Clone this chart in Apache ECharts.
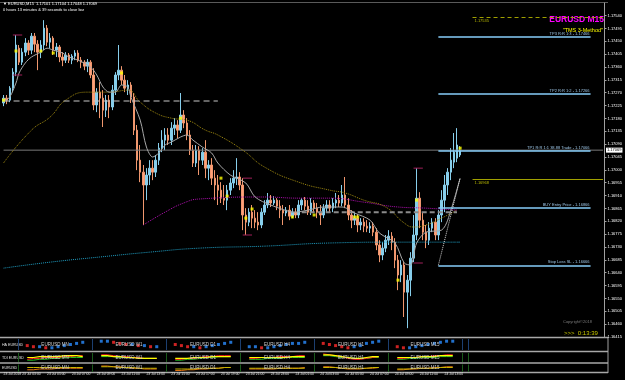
<!DOCTYPE html>
<html>
<head>
<meta charset="utf-8">
<title>EURUSD M15</title>
<script src="https://cdn.jsdelivr.net/npm/echarts@6/dist/echarts.min.js"></script>
<style>
html, body { margin: 0; padding: 0; background: #000; }
#chart { width: 625px; height: 380px; }
</style>
</head>
<body>
<div id="chart"></div>
<script>
// M15 bars, 23 Jul 01:30 -> 24 Jul 14:15
const opens = [
  1.17234, 1.17251, 1.17244, 1.17286, 1.17342, 1.17426, 1.17377, 1.17412, 1.17444, 1.17419,
  1.17468, 1.17440, 1.17412, 1.17437, 1.17496, 1.17447, 1.17461, 1.17419, 1.17430, 1.17395,
  1.17384, 1.17402, 1.17384, 1.17398, 1.17409, 1.17384, 1.17377, 1.17363, 1.17377, 1.17332,
  1.17227, 1.17272, 1.17251, 1.17209, 1.17244, 1.17220, 1.17279, 1.17332, 1.17349, 1.17314,
  1.17286, 1.17297, 1.17255, 1.17139, 1.17034, 1.16992, 1.16947, 1.16982, 1.17006, 1.16992,
  1.17034, 1.17076, 1.17104, 1.17122, 1.17104, 1.17146, 1.17157, 1.17139, 1.17192, 1.17164,
  1.17122, 1.17069, 1.17024, 1.17069, 1.17034, 1.17062, 1.17006, 1.17017, 1.16971, 1.16947,
  1.16929, 1.16901, 1.16894, 1.16929, 1.16954, 1.16971, 1.16975, 1.16947, 1.16842, 1.16817,
  1.16852, 1.16831, 1.16817, 1.16807, 1.16852, 1.16877, 1.16894, 1.16884, 1.16894, 1.16873,
  1.16859, 1.16849, 1.16859, 1.16838, 1.16852, 1.16842, 1.16877, 1.16894, 1.16873, 1.16852,
  1.16884, 1.16866, 1.16852, 1.16842, 1.16866, 1.16877, 1.16866, 1.16884, 1.16894, 1.16884,
  1.16912, 1.16877, 1.16842, 1.16824, 1.16831, 1.16807, 1.16817, 1.16803, 1.16796, 1.16803,
  1.16782, 1.16737, 1.16702, 1.16726, 1.16754, 1.16768, 1.16747, 1.16684, 1.16632, 1.16667,
  1.16572, 1.16614, 1.16691, 1.16772, 1.16901, 1.16824, 1.16782, 1.16754, 1.16796, 1.16817,
  1.16772, 1.16842, 1.16894, 1.16947, 1.16992, 1.17027, 1.17041, 1.17052
];
const closes = [
  1.17251, 1.17244, 1.17286, 1.17342, 1.17437, 1.17377, 1.17412, 1.17444, 1.17419, 1.17468,
  1.17440, 1.17412, 1.17437, 1.17496, 1.17447, 1.17461, 1.17419, 1.17430, 1.17395, 1.17384,
  1.17402, 1.17384, 1.17398, 1.17409, 1.17384, 1.17377, 1.17363, 1.17377, 1.17332, 1.17227,
  1.17272, 1.17251, 1.17209, 1.17244, 1.17220, 1.17279, 1.17332, 1.17349, 1.17314, 1.17286,
  1.17297, 1.17255, 1.17139, 1.17034, 1.16992, 1.16947, 1.16982, 1.17006, 1.16992, 1.17034,
  1.17076, 1.17104, 1.17122, 1.17104, 1.17146, 1.17157, 1.17139, 1.17192, 1.17164, 1.17122,
  1.17069, 1.17024, 1.17069, 1.17034, 1.17062, 1.17006, 1.17017, 1.16971, 1.16947, 1.16929,
  1.16901, 1.16894, 1.16929, 1.16954, 1.16971, 1.16975, 1.16947, 1.16842, 1.16817, 1.16852,
  1.16831, 1.16817, 1.16807, 1.16852, 1.16877, 1.16894, 1.16884, 1.16894, 1.16873, 1.16859,
  1.16849, 1.16859, 1.16838, 1.16852, 1.16842, 1.16877, 1.16894, 1.16873, 1.16852, 1.16884,
  1.16866, 1.16852, 1.16842, 1.16866, 1.16877, 1.16866, 1.16884, 1.16894, 1.16884, 1.16912,
  1.16877, 1.16842, 1.16824, 1.16831, 1.16807, 1.16817, 1.16803, 1.16796, 1.16803, 1.16782,
  1.16737, 1.16702, 1.16726, 1.16754, 1.16768, 1.16747, 1.16684, 1.16632, 1.16667, 1.16572,
  1.16614, 1.16691, 1.16772, 1.16901, 1.16824, 1.16782, 1.16754, 1.16796, 1.16817, 1.16772,
  1.16842, 1.16894, 1.16947, 1.16992, 1.17034, 1.17062, 1.17087, 1.17069
];
const highs = [
  1.17262, 1.17262, 1.17293, 1.17356, 1.17472, 1.17437, 1.17426, 1.17461, 1.17454, 1.17479,
  1.17479, 1.17454, 1.17454, 1.17524, 1.17507, 1.17479, 1.17468, 1.17444, 1.17437, 1.17412,
  1.17412, 1.17409, 1.17405, 1.17419, 1.17419, 1.17395, 1.17384, 1.17388, 1.17384, 1.17356,
  1.17286, 1.17307, 1.17279, 1.17262, 1.17262, 1.17297, 1.17342, 1.17437, 1.17363, 1.17332,
  1.17314, 1.17307, 1.17269, 1.17157, 1.17087, 1.17017, 1.17006, 1.17034, 1.17034, 1.17052,
  1.17094, 1.17139, 1.17146, 1.17146, 1.17167, 1.17181, 1.17174, 1.17269, 1.17209, 1.17181,
  1.17139, 1.17087, 1.17087, 1.17083, 1.17076, 1.17104, 1.17034, 1.17041, 1.16999, 1.16982,
  1.16957, 1.16947, 1.16947, 1.16971, 1.16999, 1.17041, 1.16992, 1.16971, 1.16866, 1.16866,
  1.16877, 1.16859, 1.16852, 1.16866, 1.16894, 1.16919, 1.16912, 1.16908, 1.16901, 1.16894,
  1.16877, 1.16870, 1.16877, 1.16866, 1.16866, 1.16894, 1.16901, 1.16905, 1.16894, 1.16901,
  1.16894, 1.16884, 1.16877, 1.16880, 1.16894, 1.16894, 1.16901, 1.16919, 1.16912, 1.16947,
  1.16975, 1.16901, 1.16859, 1.16852, 1.16845, 1.16831, 1.16831, 1.16824, 1.16817, 1.16817,
  1.16796, 1.16754, 1.16747, 1.16772, 1.16789, 1.16782, 1.16761, 1.16702, 1.16684, 1.16677,
  1.16632, 1.16712, 1.16842, 1.17006, 1.16922, 1.16852, 1.16807, 1.16817, 1.16831, 1.16831,
  1.16859, 1.16929, 1.16982, 1.17006, 1.17076, 1.17129, 1.17146, 1.17083
];
const lows = [
  1.17223, 1.17230, 1.17237, 1.17272, 1.17328, 1.17367, 1.17367, 1.17398, 1.17402, 1.17405,
  1.17412, 1.17349, 1.17391, 1.17419, 1.17433, 1.17426, 1.17402, 1.17395, 1.17377, 1.17363,
  1.17374, 1.17374, 1.17370, 1.17384, 1.17377, 1.17356, 1.17349, 1.17342, 1.17321, 1.17209,
  1.17202, 1.17181, 1.17150, 1.17185, 1.17181, 1.17209, 1.17262, 1.17314, 1.17297, 1.17272,
  1.17262, 1.17234, 1.17122, 1.16999, 1.16957, 1.16807, 1.16894, 1.16947, 1.16964, 1.16975,
  1.17017, 1.17062, 1.17069, 1.17087, 1.17087, 1.17122, 1.17111, 1.17129, 1.17146, 1.17104,
  1.17052, 1.17010, 1.17010, 1.16982, 1.17017, 1.16971, 1.16964, 1.16947, 1.16894, 1.16877,
  1.16884, 1.16877, 1.16859, 1.16912, 1.16936, 1.16947, 1.16929, 1.16789, 1.16772, 1.16803,
  1.16796, 1.16796, 1.16789, 1.16796, 1.16842, 1.16866, 1.16870, 1.16877, 1.16859, 1.16831,
  1.16807, 1.16838, 1.16824, 1.16831, 1.16831, 1.16831, 1.16859, 1.16859, 1.16842, 1.16842,
  1.16852, 1.16831, 1.16807, 1.16831, 1.16852, 1.16852, 1.16852, 1.16866, 1.16870, 1.16873,
  1.16866, 1.16824, 1.16796, 1.16807, 1.16782, 1.16789, 1.16782, 1.16782, 1.16779, 1.16768,
  1.16719, 1.16677, 1.16684, 1.16712, 1.16737, 1.16719, 1.16656, 1.16579, 1.16607, 1.16485,
  1.16446, 1.16558, 1.16677, 1.16754, 1.16796, 1.16754, 1.16726, 1.16737, 1.16782, 1.16754,
  1.16754, 1.16817, 1.16852, 1.16912, 1.16964, 1.17006, 1.17027, 1.17045
];

// time axis labels: first bar, then every 8 bars from bar 6
const timeTicks = [
  '23 Jul 2018', '23 Jul 03:00', '23 Jul 05:00', '23 Jul 07:00', '23 Jul 09:00', '23 Jul 11:00',
  '23 Jul 13:00', '23 Jul 15:00', '23 Jul 17:00', '23 Jul 19:00', '23 Jul 21:00', '23 Jul 23:00',
  '24 Jul 01:00', '24 Jul 03:00', '24 Jul 05:00', '24 Jul 07:00', '24 Jul 09:00', '24 Jul 11:00',
  '24 Jul 13:00'
];

// indicator lines: [bar index, price]
const fastMa = [
  [0, 1.17237], [2, 1.17255], [4, 1.17304], [5, 1.17339], [7, 1.17374], [9, 1.17395],
  [12, 1.17412], [14, 1.17426], [16, 1.17419], [19, 1.17409], [21, 1.17395], [24, 1.17384],
  [28, 1.17360], [30, 1.17332], [32, 1.17290], [34, 1.17272], [36, 1.17272], [38, 1.17297],
  [40, 1.17290], [41, 1.17255], [44, 1.17174], [46, 1.17080], [48, 1.17045], [50, 1.17059],
  [52, 1.17087], [54, 1.17097], [57, 1.17115], [59, 1.17122], [61, 1.17104], [64, 1.17080],
  [67, 1.17059], [69, 1.17024], [73, 1.16982], [78, 1.16954], [81, 1.16905], [86, 1.16877],
  [94, 1.16852], [98, 1.16859], [103, 1.16870], [109, 1.16870], [113, 1.16849], [118, 1.16824],
  [121, 1.16779], [126, 1.16744], [129, 1.16674], [131, 1.16667], [133, 1.16744], [136, 1.16782],
  [141, 1.16789], [143, 1.16824], [147, 1.16971]
];
const oliveMa = [
  [0, 1.17024], [9, 1.17139], [15, 1.17185], [20, 1.17244], [27, 1.17272], [34, 1.17272],
  [40, 1.17279], [44, 1.17237], [49, 1.17199], [54, 1.17181], [59, 1.17174], [65, 1.17139],
  [69, 1.17122], [77, 1.17069], [84, 1.17010], [95, 1.16957], [105, 1.16929], [110, 1.16919],
  [116, 1.16894], [123, 1.16870], [129, 1.16814], [132, 1.16800], [136, 1.16807], [141, 1.16831],
  [146, 1.16859]
];
const magentaMa = [
  [45, 1.16807], [52, 1.16852], [58, 1.16884], [63, 1.16898], [84, 1.16905], [95, 1.16901],
  [105, 1.16901], [116, 1.16887], [127, 1.16870], [136, 1.16866], [146, 1.16859]
];
const tealMa = [
  [0, 1.16656], [15, 1.16677], [31, 1.16695], [47, 1.16712], [63, 1.16726], [84, 1.16733],
  [105, 1.16744], [127, 1.16747], [147, 1.16747]
];
const signalDots = [
  [0, 1.17244], [4, 1.17416], [12, 1.17416], [16, 1.17409], [38, 1.17339], [57, 1.17181],
  [70, 1.16971], [72, 1.16908], [78, 1.16831], [80, 1.16863], [93, 1.16835], [100, 1.16842],
  [113, 1.16835], [114, 1.16835], [127, 1.16614], [133, 1.16894], [147, 1.17076]
];
// short fractal markers: [from bar, to bar, price]
const fractalMarks = [
  [3, 6, 1.17472], [3, 6, 1.17332], [77, 80, 1.16971], [77, 80, 1.16772],
  [132, 135, 1.17006], [132, 135, 1.16674]
];
const oldLevel = { from: 0, to: 69, price: 1.17241 };
const rangeLevel = { from: 96, to: 146, price: 1.16852 };

// trade levels
const levelNames = [
  'TP3 R:R 1:3 - 1.17466', 'TP2 R:R 1:2 - 1.17266', 'TP1 R:R 1:1 38.88 Trade - 1.17066',
  'BUY Entry Price - 1.16866', 'Stop Loss SL - 1.16666'
];
const levelPrices = [1.17466, 1.17266, 1.17066, 1.16866, 1.16666];
const pivotPrices = [1.16968, 1.17535];

// multi-timeframe panels, 10 points per cell
const panelCells = ['EURUSD MN', 'EURUSD W1', 'EURUSD D1', 'EURUSD H4', 'EURUSD H1', 'EURUSD M15'];
const panelNames = ['HA EURUSD', 'TDI EURUSD', 'EURUSD'];
const haVals = [
  4, 3, 3, 2, 2, 3, 4, 5, 6, 7,
  8, 8, 7, 6, 5, 5, 4, 4, 3, 3,
  5, 4, 3, 3, 2, 3, 4, 5, 6, 7,
  3, 3, 2, 2, 3, 4, 5, 6, 6, 7,
  6, 5, 4, 3, 2, 3, 4, 6, 7, 8,
  3, 2, 2, 3, 4, 5, 6, 7, 8, 8
];
const tdiYellow = [
  5, 5, 6, 6, 6, 6, 7, 7, 7, 6,
  7, 7, 6, 6, 5, 5, 4, 4, 4, 4,
  4, 4, 4, 5, 5, 5, 6, 6, 6, 6,
  5, 5, 5, 5, 5, 5, 5, 6, 6, 6,
  8, 8, 7, 6, 5, 4, 4, 5, 6, 6,
  5, 5, 5, 5, 6, 6, 6, 7, 7, 7
];
const tdiRed = [
  3, 4, 4, 5, 5, 5, 6, 6, 7, 7,
  8, 8, 7, 6, 6, 5, 5, 4, 4, 4,
  3, 3, 4, 4, 5, 6, 6, 7, 7, 7,
  4, 4, 5, 5, 5, 6, 6, 6, 7, 7,
  9, 8, 7, 6, 4, 3, 3, 4, 5, 6,
  4, 4, 5, 5, 6, 6, 7, 7, 8, 8
];
const tdiGreen = [
  2, 2, 3, 3, 4, 4, 5, 5, 5, 5,
  6, 6, 6, 5, 5, 5, 5, 4, 4, 4,
  2, 2, 3, 3, 4, 5, 5, 6, 6, 6,
  3, 3, 3, 4, 4, 4, 5, 5, 5, 5,
  7, 7, 6, 5, 5, 4, 4, 4, 5, 5,
  3, 3, 4, 4, 5, 5, 5, 6, 6, 6
];
const trendOlive = [
  6, 6, 6, 6, 6, 6, 6, 6, 6, 6,
  7, 7, 7, 6, 6, 6, 5, 5, 5, 5,
  4, 4, 4, 4, 5, 5, 5, 5, 6, 6,
  5, 5, 5, 5, 5, 5, 5, 5, 5, 5,
  6, 6, 6, 5, 5, 5, 5, 5, 6, 6,
  4, 4, 4, 5, 5, 5, 5, 6, 6, 6
];
const trendOrange = [
  3, 3, 4, 4, 4, 5, 5, 5, 5, 5,
  8, 8, 7, 7, 6, 5, 5, 4, 4, 4,
  2, 2, 3, 3, 4, 4, 5, 5, 6, 6,
  4, 4, 4, 4, 4, 5, 5, 5, 5, 6,
  7, 7, 6, 5, 4, 4, 4, 5, 5, 6,
  3, 3, 4, 4, 5, 5, 6, 6, 7, 7
];

const SLOTS = 194;
const CELL_SLOTS = 12;
const PANEL_SLOTS = panelCells.length * CELL_SLOTS + 1;
const FONT = 'Liberation Sans, Arial, sans-serif';

const categories = Array.from({ length: SLOTS }, (_, i) => 'bar' + i);
const tickAt = {};
timeTicks.forEach((t, k) => { tickAt[k === 0 ? 0 : 6 + (k - 1) * 8] = t; });
const candles = opens.map((o, i) => [o, closes[i], lows[i], highs[i]]);
const lastClose = closes[closes.length - 1];

function toSlots(vals) {
  return vals.map((v, j) => [Math.floor(j / 10) * CELL_SLOTS + 1 + (j % 10), v]);
}
function cellLines(vals, color, axis, width) {
  return panelCells.map((_, c) => ({
    type: 'line', xAxisIndex: axis, yAxisIndex: axis, showSymbol: false, silent: true,
    data: toSlots(vals).slice(c * 10, c * 10 + 10),
    lineStyle: { color, width: width || 1 }
  }));
}

const chart = echarts.init(document.getElementById('chart'), null, { renderer: 'canvas' });

const panelTops = [339, 353, 364.5];
const panelHeights = [11, 9, 7.5];
const panelSplit = ['#1c3f70', '#1a5a1a', '#1a5a1a'];
const panelLeft = 18;
const panelWidth = 444 / (PANEL_SLOTS - 1) * PANEL_SLOTS;

const grids = [{ left: 2, right: 17, top: 3, bottom: 43 }];
panelTops.forEach((t, k) => grids.push({ left: panelLeft, width: panelWidth, top: t, height: panelHeights[k] }));

const xAxes = [{
  type: 'category', data: categories, boundaryGap: true, gridIndex: 0,
  axisLine: { show: false }, axisTick: { show: false }, splitLine: { show: false },
  axisLabel: {
    show: true, interval: (i) => tickAt[i] !== undefined,
    formatter: (v, i) => tickAt[i] || '',
    color: '#e0e0e0', fontSize: 3.4, fontFamily: FONT, align: 'left', margin: 36
  }
}];
const yAxes = [{
  type: 'value', gridIndex: 0, position: 'right', scale: true,
  min: 1.16415, max: 1.17584, interval: 0.00045,
  axisLine: { show: true, lineStyle: { color: '#a0a0a0', width: 1 } },
  axisTick: { show: true, length: 2, lineStyle: { color: '#a0a0a0' } },
  splitLine: { show: false },
  axisLabel: {
    color: '#ffffff', fontSize: 4, fontFamily: FONT, margin: 3,
    showMaxLabel: false, formatter: (v) => v.toFixed(5)
  }
}];
panelTops.forEach((_, k) => {
  xAxes.push({
    type: 'category', gridIndex: k + 1, boundaryGap: true,
    data: Array.from({ length: PANEL_SLOTS }, (_, i) => 's' + i),
    axisLine: { show: false }, axisTick: { show: false }, axisLabel: { show: false },
    splitLine: { show: true, interval: (i) => i % CELL_SLOTS === 0, lineStyle: { color: panelSplit[k], width: 1 } }
  });
  yAxes.push({ type: 'value', gridIndex: k + 1, min: 0, max: 10, show: false });
});

const levelMarks = levelPrices.map((p, k) => [
  { coord: [140, p], lineStyle: { color: '#87cefa', width: 1.5, type: 'solid' },
    label: { formatter: levelNames[k], position: 'insideEndTop', distance: 1, color: '#9cc4e4', fontSize: 4, fontFamily: FONT } },
  { coord: [189, p] }
]);
const pivotMarks = pivotPrices.map((p, k) => [
  { coord: [151, p], lineStyle: { color: '#a0a000', width: k === 0 ? 1.2 : 1, type: k === 0 ? 'solid' : [4, 3] },
    label: { formatter: p.toFixed(5), position: 'insideStartBottom', distance: 2, color: '#b8b800', fontSize: 4, fontFamily: FONT } },
  { coord: [193, p] }
]);

const series = [
  {
    type: 'line', name: 'bid', silent: true, showSymbol: false,
    data: [[0, lastClose], [SLOTS - 1, lastClose]],
    lineStyle: { color: '#7a7a7a', width: 1 },
    endLabel: {
      show: true, formatter: lastClose.toFixed(5), backgroundColor: '#ffffff', color: '#000000',
      fontSize: 4, fontFamily: FONT, padding: [1, 1, 0, 1], distance: 3
    }
  },
  {
    type: 'line', name: 'MA teal', data: tealMa, showSymbol: false, smooth: true, silent: true,
    lineStyle: { color: '#1f9fc4', width: 1, type: 'dotted' }
  },
  {
    type: 'line', name: 'MA magenta', data: magentaMa, showSymbol: false, smooth: true, silent: true,
    lineStyle: { color: '#b010b0', width: 1, type: 'dotted' }
  },
  {
    type: 'line', name: 'MA olive', data: oliveMa, showSymbol: false, smooth: true, silent: true,
    lineStyle: { color: '#a08a10', width: 1, type: 'dotted' }
  },
  {
    type: 'line', name: 'old level', silent: true, showSymbol: false,
    data: [[oldLevel.from, oldLevel.price], [oldLevel.to, oldLevel.price]],
    lineStyle: { color: '#c8c8c8', width: 1, type: [6, 4] }
  },
  {
    type: 'line', name: 'range level', silent: true, showSymbol: false,
    data: [[rangeLevel.from, rangeLevel.price], [rangeLevel.to, rangeLevel.price]],
    lineStyle: { color: '#8a8a8a', width: 2, type: [5, 3] }
  },
  {
    type: 'candlestick', name: 'EURUSD,M15', data: candles, barWidth: 2, silent: true,
    itemStyle: { color: '#87ceeb', color0: '#ffa07a', borderColor: '#87ceeb', borderColor0: '#f0976e', borderWidth: 1 },
    markLine: {
      silent: true, symbol: ['none', 'none'], animation: false,
      data: [...levelMarks, ...pivotMarks]
    }
  },
  {
    type: 'line', name: 'MA fast', data: fastMa, showSymbol: false, smooth: 0.3, silent: true,
    lineStyle: { color: '#a8a8a8', width: 1 }
  },
  {
    type: 'line', name: 'trade', silent: true, showSymbol: false,
    data: [[140, levelPrices[4]], [147, 1.16971]],
    lineStyle: { color: '#d8d8d8', width: 1, type: 'dotted' }
  },
  ...fractalMarks.map((f) => ({
    type: 'line', silent: true, showSymbol: false,
    data: [[f[0], f[2]], [f[1], f[2]]],
    lineStyle: { color: '#a0205a', width: 1 }
  })),
  {
    type: 'scatter', name: 'signals', data: signalDots, symbol: 'rect', symbolSize: 3, silent: true,
    itemStyle: { color: '#ffff00' }, z: 5
  },
  // panels
  {
    type: 'scatter', xAxisIndex: 1, yAxisIndex: 1, symbol: 'rect', symbolSize: [3, 3], silent: true,
    data: toSlots(haVals).map((d, j) => ({
      value: d,
      itemStyle: { color: (j % 10 === 0 ? haVals[j + 1] >= haVals[j] : haVals[j] >= haVals[j - 1]) ? '#2a8cff' : '#ff2a2a' }
    }))
  },
  ...cellLines(tdiGreen, '#20c020', 2),
  ...cellLines(tdiRed, '#ff2020', 2),
  ...cellLines(tdiYellow, '#ffff00', 2, 1.2),
  ...cellLines(trendOrange, '#e07010', 3),
  ...cellLines(trendOlive, '#c8b400', 3)
];

const slotW = panelWidth / PANEL_SLOTS;
const graphic = [
  { type: 'line', shape: { x1: 0, y1: 2.5, x2: 608, y2: 2.5 }, style: { stroke: '#5a5a5a', lineWidth: 1 }, silent: true },
  { type: 'text', left: 3, top: 2, style: { text: '\u25BC EURUSD,M15  1.17101 1.17104 1.17048 1.17069', fill: '#ffffff', fontSize: 4, fontFamily: FONT } },
  { type: 'text', left: 3, top: 7.5, style: { text: '0 hours 13 minutes & 39 seconds to close bar', fill: '#ffffff', fontSize: 4, fontFamily: FONT } },
  { type: 'text', right: 21, top: 15, style: { text: 'EURUSD M15', fill: '#ff00ff', fontSize: 8.5, fontWeight: 'bold', fontFamily: FONT } },
  { type: 'text', right: 22, top: 27, style: { text: '"TMS 3-Method"', fill: '#ffff00', fontSize: 5.5, fontFamily: FONT } },
  { type: 'text', left: 563, top: 320, style: { text: 'Copyright\u00A92018', fill: '#7a7a7a', fontSize: 4, fontFamily: FONT } },
  { type: 'text', left: 564, top: 330, style: { text: '>>>  0:13:39', fill: '#c8c800', fontSize: 6, fontFamily: FONT } },
  { type: 'line', shape: { x1: 608, y1: 337, x2: 608, y2: 373 }, style: { stroke: '#a0a0a0', lineWidth: 1 }, silent: true }
];
[337.5, 351.5, 363, 372.5].forEach((y) => graphic.push({
  type: 'line', shape: { x1: 0, y1: y, x2: 608, y2: y }, style: { stroke: '#a8a8a8', lineWidth: 1.5 }, silent: true
}));
panelNames.forEach((name, k) => {
  graphic.push({ type: 'text', left: 2, top: panelTops[k] + panelHeights[k] / 2 - 2, style: { text: name, fill: '#e0e0e0', fontSize: 3.6, fontFamily: FONT } });
  panelCells.forEach((cell, c) => {
    graphic.push({
      type: 'text', x: panelLeft + slotW * (c * CELL_SLOTS + 6), y: panelTops[k] + panelHeights[k] / 2,
      style: { text: cell, fill: '#d0d0d0', fontSize: 4.5, fontFamily: FONT, align: 'center', verticalAlign: 'middle' },
      z: 10, silent: true
    });
  });
});

chart.setOption({
  backgroundColor: '#000000',
  animation: false,
  grid: grids,
  xAxis: xAxes,
  yAxis: yAxes,
  series,
  graphic
});
</script>
</body>
</html>
